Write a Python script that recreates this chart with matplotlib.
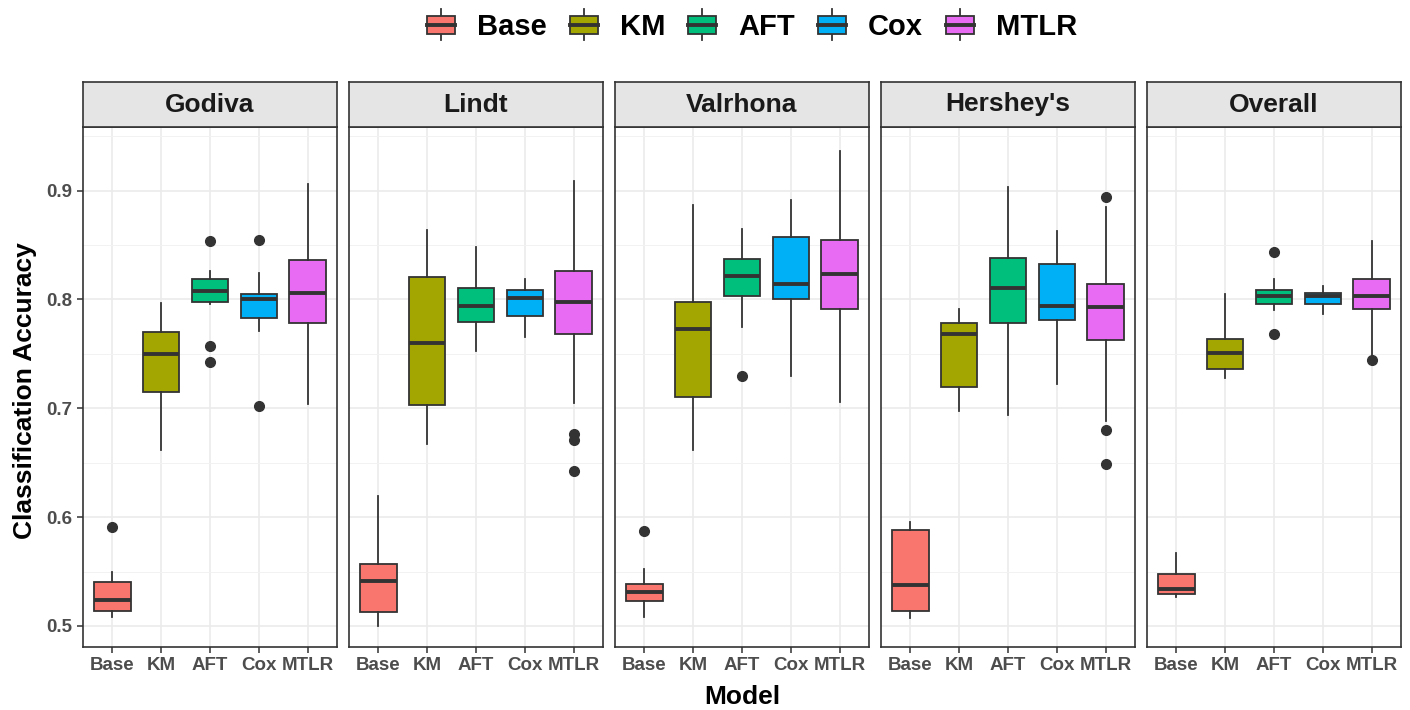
import matplotlib
matplotlib.use("Agg")
import matplotlib.pyplot as plt
from matplotlib.patches import Patch, Rectangle
from matplotlib.lines import Line2D
from matplotlib.legend_handler import HandlerBase

plt.rcParams['font.family'] = ['Liberation Sans', 'DejaVu Sans']
plt.rcParams['font.weight'] = 'bold'

# data
panels = ['Godiva', 'Lindt', 'Valrhona', "Hershey's", 'Overall']
models = ['Base', 'KM', 'AFT', 'Cox', 'MTLR']
colors = ['#F8766D', '#A3A500', '#00BF7D', '#00B0F6', '#E76BF3']

# rows = panels, columns = models
whislo = [[0.508, 0.662, 0.796, 0.771, 0.704],
          [0.500, 0.667, 0.753, 0.766, 0.705],
          [0.508, 0.662, 0.775, 0.730, 0.706],
          [0.507, 0.698, 0.694, 0.722, 0.688],
          [0.527, 0.728, 0.790, 0.787, 0.747]]
q1 = [[0.514, 0.715, 0.798, 0.783, 0.778],
      [0.513, 0.703, 0.779, 0.785, 0.768],
      [0.523, 0.710, 0.803, 0.800, 0.791],
      [0.514, 0.720, 0.778, 0.781, 0.763],
      [0.529, 0.736, 0.796, 0.796, 0.791]]
med = [[0.524, 0.750, 0.808, 0.800, 0.806],
       [0.541, 0.760, 0.794, 0.801, 0.798],
       [0.531, 0.773, 0.822, 0.814, 0.823],
       [0.538, 0.768, 0.811, 0.794, 0.793],
       [0.534, 0.751, 0.803, 0.803, 0.803]]
q3 = [[0.540, 0.770, 0.819, 0.805, 0.836],
      [0.557, 0.821, 0.811, 0.809, 0.826],
      [0.539, 0.798, 0.837, 0.857, 0.855],
      [0.588, 0.778, 0.838, 0.833, 0.814],
      [0.548, 0.764, 0.809, 0.806, 0.819]]
whishi = [[0.550, 0.797, 0.826, 0.824, 0.906],
          [0.619, 0.864, 0.848, 0.819, 0.909],
          [0.552, 0.887, 0.865, 0.891, 0.936],
          [0.596, 0.791, 0.903, 0.863, 0.885],
          [0.567, 0.805, 0.819, 0.812, 0.854]]
fliers = [[[0.591], [], [0.854, 0.757, 0.743], [0.855, 0.702], []],
          [[], [], [], [], [0.676, 0.671, 0.642]],
          [[0.587], [], [0.730], [], []],
          [[], [], [], [], [0.894, 0.680, 0.649]],
          [[], [], [0.844, 0.768], [], [0.744]]]

W, H = 1410, 710
fig = plt.figure(figsize=(W / 100, H / 100), dpi=100)

def px(x0, y0, x1, y1):
    return [x0 / W, 1 - y1 / H, (x1 - x0) / W, (y1 - y0) / H]

edge = '#333333'
lefts = [83, 349, 615, 881, 1147]
pw = 254

for i, name in enumerate(panels):
    ax = fig.add_axes(px(lefts[i], 127, lefts[i] + pw, 647))
    stats = []
    for j in range(5):
        stats.append(dict(whislo=whislo[i][j], q1=q1[i][j], med=med[i][j],
                          q3=q3[i][j], whishi=whishi[i][j], fliers=fliers[i][j]))
    bp = ax.bxp(stats, positions=range(1, 6), widths=0.75, patch_artist=True,
                showcaps=False,
                boxprops=dict(edgecolor=edge, linewidth=1.3),
                medianprops=dict(color=edge, linewidth=2.8),
                whiskerprops=dict(color=edge, linewidth=1.3),
                flierprops=dict(marker='o', markerfacecolor=edge,
                                markeredgecolor=edge, markersize=7))
    for box, c in zip(bp['boxes'], colors):
        box.set_facecolor(c)
    ax.set_xlim(0.4, 5.6)
    ax.set_ylim(0.4807, 0.9585)
    ax.set_xticks(range(1, 6))
    ax.set_xticklabels(models)
    ax.set_yticks([0.5, 0.6, 0.7, 0.8, 0.9])
    ax.set_yticks([0.55, 0.65, 0.75, 0.85, 0.95], minor=True)
    ax.grid(True, which='major', color='#EBEBEB', linewidth=1.2)
    ax.grid(True, which='minor', axis='y', color='#F2F2F2', linewidth=0.7)
    ax.set_axisbelow(True)
    ax.tick_params(axis='both', which='major', colors=edge, length=4,
                   width=1.1, labelcolor='#4D4D4D', labelsize=13.5)
    ax.tick_params(axis='y', which='minor', length=0)
    if i > 0:
        ax.tick_params(axis='y', which='major', labelleft=False, left=False)
    for s in ax.spines.values():
        s.set_color(edge)
        s.set_linewidth(1.2)

    sx = fig.add_axes(px(lefts[i], 82, lefts[i] + pw, 127))
    sx.set_facecolor('#E5E5E5')
    sx.set_xticks([])
    sx.set_yticks([])
    for s in sx.spines.values():
        s.set_color(edge)
        s.set_linewidth(1.2)
    sx.text(0.5, 0.5, name, ha='center', va='center', fontsize=19,
            fontweight='bold', color='#1A1A1A', transform=sx.transAxes)

fig.text(25 / W, 1 - 391 / H, 'Classification Accuracy', rotation=90,
         ha='center', va='center', fontsize=19, fontweight='bold')
fig.text(742 / W, 1 - 697 / H, 'Model', ha='center', va='center',
         fontsize=19, fontweight='bold')


class BoxKey(HandlerBase):
    def create_artists(self, legend, orig_handle, xdescent, ydescent,
                       width, height, fontsize, trans):
        x0 = -xdescent
        y0 = -ydescent
        cx = x0 + width / 2
        b0 = y0 + height * 0.21
        b1 = y0 + height * 0.79
        rect = Rectangle((x0, b0), width, b1 - b0,
                         facecolor=orig_handle.get_facecolor(),
                         edgecolor=edge, linewidth=1.3, transform=trans)
        lo = Line2D([cx, cx], [y0, b0], color=edge, lw=1.3, transform=trans)
        hi = Line2D([cx, cx], [b1, y0 + height], color=edge, lw=1.3, transform=trans)
        md = Line2D([x0, x0 + width], [(b0 + b1) / 2] * 2, color=edge,
                    lw=2.8, transform=trans)
        return [lo, hi, rect, md]


handles = [Patch(facecolor=c, label=m) for c, m in zip(colors, models)]
fig.legend(handles=handles, loc='center', bbox_to_anchor=(752 / W, 1 - 25 / H),
           ncol=5, frameon=False, handler_map={Patch: BoxKey()},
           handlelength=0.95, handleheight=1.25, handletextpad=0.75,
           columnspacing=0.8, prop=dict(weight='bold', size=21))

fig.savefig('out.png', dpi=100)
